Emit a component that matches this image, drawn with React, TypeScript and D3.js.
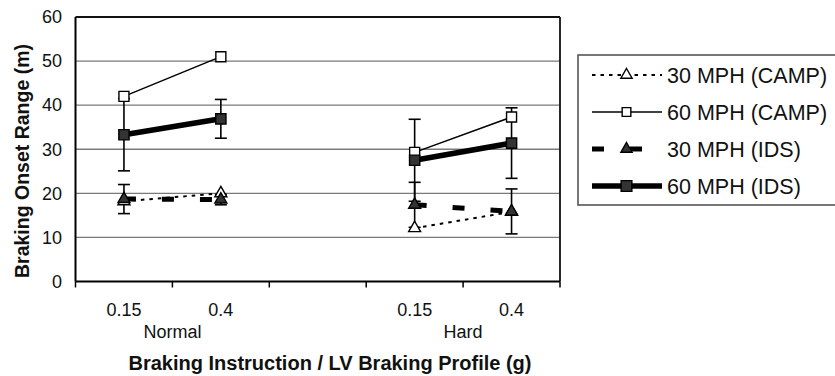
import React from 'react';
import * as d3 from 'd3';

// ---- data ----
const categoryKeys = ['n015', 'n04', 'gap', 'h015', 'h04'];
const categoryLabels = ['0.15', '0.4', '', '0.15', '0.4'];
const groupLabels = ['Normal', 'Hard'];
const groupMembers = [['n015', 'n04'], ['h015', 'h04']];
const yTicks = [0, 10, 20, 30, 40, 50, 60];

const camp30 = [18.2, 20.0, null, 12.1, 15.8];
const camp60 = [42.0, 51.0, null, 29.3, 37.3];
const ids30 = [18.7, 18.6, null, 17.4, 15.9];
const ids30Err = [3.3, 1.2, null, 5.1, 5.1];
const ids60 = [33.3, 36.9, null, 27.5, 31.4];
const ids60Err = [8.2, 4.4, null, 9.3, 8.0];

const seriesNames = ['30 MPH (CAMP)', '60 MPH (CAMP)', '30 MPH (IDS)', '60 MPH (IDS)'];

type Series = {
  name: string;
  values: (number | null)[];
  err: (number | null)[] | null;
  shape: 'triangle' | 'square';
  filled: boolean;
  strokeWidth: number;
  dash: string | null;
};

const series: Series[] = [
  { name: seriesNames[0], values: camp30, err: null, shape: 'triangle', filled: false, strokeWidth: 2, dash: '3.5,5' },
  { name: seriesNames[1], values: camp60, err: null, shape: 'square', filled: false, strokeWidth: 1.5, dash: null },
  { name: seriesNames[2], values: ids30, err: ids30Err, shape: 'triangle', filled: true, strokeWidth: 5, dash: '12,26' },
  { name: seriesNames[3], values: ids60, err: ids60Err, shape: 'square', filled: true, strokeWidth: 5.5, dash: null },
];

const W = 835;
const H = 376;
const plot = { left: 75.5, right: 560, top: 17, bottom: 281.5 };
const FONT = '"Liberation Sans", Arial, sans-serif';

function markerPath(shape: string, size: number) {
  const t = shape === 'square' ? d3.symbolSquare : d3.symbolTriangle;
  return d3.symbol().type(t).size(size)() as string;
}

function Marker({ s, x, y, legend }: { s: Series; x: number; y: number; legend?: boolean }) {
  const size = s.shape === 'square' ? (s.filled ? (legend ? 115 : 105) : (legend ? 75 : 100)) : (legend ? 55 : 62);
  return (
    <path
      d={markerPath(s.shape, size)}
      transform={`translate(${x},${y})`}
      fill={s.filled ? '#333333' : '#ffffff'}
      stroke="#000"
      strokeWidth={1.4}
    />
  );
}

export default function App() {
  const x = d3.scaleBand<string>().domain(categoryKeys).range([plot.left, plot.right]).paddingInner(0).paddingOuter(0);
  const y = d3.scaleLinear().domain([0, 60]).range([plot.bottom, plot.top]);
  const cx = (i: number) => (x(categoryKeys[i]) as number) + x.bandwidth() / 2;

  const lineGen = d3
    .line<number | null>()
    .defined((d) => d != null)
    .x((_, i) => cx(i))
    .y((d) => y(d as number));

  const campSeries = series.filter((s) => !s.filled);
  const idsSeries = series.filter((s) => s.filled);

  const renderLine = (s: Series) => (
    <path
      key={'l' + s.name}
      d={lineGen(s.values) as string}
      fill="none"
      stroke="#000"
      strokeWidth={s.strokeWidth}
      strokeDasharray={s.dash ?? undefined}
      strokeLinecap="butt"
    />
  );
  const renderMarkers = (s: Series) =>
    s.values.map((v, i) =>
      v == null ? null : <Marker key={'m' + s.name + i} s={s} x={cx(i)} y={y(v)} />
    );

  const errorBars = idsSeries.flatMap((s) =>
    s.values.map((v, i) => {
      const e = s.err ? s.err[i] : null;
      if (v == null || e == null) return null;
      const xx = cx(i);
      const y1 = y(v + e);
      const y0 = y(v - e);
      return (
        <g key={'e' + s.name + i} stroke="#000" strokeWidth={1.6}>
          <line x1={xx} x2={xx} y1={y1} y2={y0} />
          <line x1={xx - 6} x2={xx + 6} y1={y1} y2={y1} />
          <line x1={xx - 6} x2={xx + 6} y1={y0} y2={y0} />
        </g>
      );
    })
  );

  const tickEdges = [...categoryKeys.map((k) => x(k) as number), plot.right];

  const legend = { x: 578, y: 55, w: 262, h: 150, rowY0: 75, rowStep: 37, lx0: 592, lx1: 662, tx: 667 };

  return (
    <svg width={W} height={H} style={{ position: 'absolute', left: 0, top: 0, background: '#fff' }} fontFamily={FONT}>
      <rect x={0} y={0} width={W} height={H} fill="#fff" />
      {/* gridlines */}
      {yTicks
        .filter((t) => t > 0 && t < 60)
        .map((t) => (
          <line key={'g' + t} x1={plot.left} x2={plot.right} y1={y(t)} y2={y(t)} stroke="#7a7a7a" strokeWidth={1.4} />
        ))}
      {/* border */}
      <line x1={plot.left} x2={plot.right} y1={plot.top} y2={plot.top} stroke="#111" strokeWidth={1.8} />
      <line x1={plot.right} x2={plot.right} y1={plot.top} y2={plot.bottom} stroke="#111" strokeWidth={1.8} />
      <line x1={plot.left} x2={plot.left} y1={plot.top} y2={plot.bottom} stroke="#000" strokeWidth={2} />
      <line x1={plot.left} x2={plot.right} y1={plot.bottom} y2={plot.bottom} stroke="#000" strokeWidth={2} />
      {tickEdges.map((tx, i) => (
        <line key={'t' + i} x1={tx} x2={tx} y1={plot.bottom} y2={plot.bottom + 6} stroke="#000" strokeWidth={1.5} />
      ))}
      {/* y tick labels */}
      {yTicks.map((t) => (
        <text key={'yl' + t} x={62} y={y(t)} dy="0.35em" textAnchor="end" fontSize={18} fill="#111">
          {t}
        </text>
      ))}
      {/* x tick labels */}
      {categoryKeys.map((k, i) =>
        categoryLabels[i] ? (
          <text key={'xl' + k} x={cx(i)} y={310} dy="0.35em" textAnchor="middle" fontSize={18} fill="#111">
            {categoryLabels[i]}
          </text>
        ) : null
      )}
      {groupLabels.map((g, gi) => {
        const xs = groupMembers[gi].map((k) => (x(k) as number) + x.bandwidth() / 2);
        return (
          <text key={'gl' + g} x={d3.mean(xs) as number} y={332} dy="0.35em" textAnchor="middle" fontSize={18} fill="#111">
            {g}
          </text>
        );
      })}
      {/* axis titles */}
      <text x={330} y={363} dy="0.35em" textAnchor="middle" fontSize={20} fontWeight="bold" fill="#111">
        Braking Instruction / LV Braking Profile (g)
      </text>
      <text
        transform={`translate(22,161) rotate(-90)`}
        dy="0.35em"
        textAnchor="middle"
        fontSize={19.5}
        fontWeight="bold"
        fill="#111"
      >
        Braking Onset Range (m)
      </text>
      {/* data */}
      {errorBars}
      {campSeries.map(renderLine)}
      {campSeries.map(renderMarkers)}
      {idsSeries.map(renderLine)}
      {idsSeries.map(renderMarkers)}
      {/* legend */}
      <rect x={legend.x} y={legend.y} width={legend.w} height={legend.h} fill="#fff" stroke="#555" strokeWidth={1.6} />
      {series.map((s, i) => {
        const ly = legend.rowY0 + i * legend.rowStep;
        const mx = (legend.lx0 + legend.lx1) / 2 - 0.5;
        return (
          <g key={'lg' + s.name}>
            <line
              x1={legend.lx0}
              x2={legend.lx1}
              y1={ly}
              y2={ly}
              stroke="#000"
              strokeWidth={s.strokeWidth}
              strokeDasharray={s.dash ?? undefined}
            />
            <Marker s={s} x={mx} y={ly} legend />
            <text x={legend.tx} y={ly} dy="0.35em" fontSize={21.5} fill="#111">
              {s.name}
            </text>
          </g>
        );
      })}
    </svg>
  );
}
